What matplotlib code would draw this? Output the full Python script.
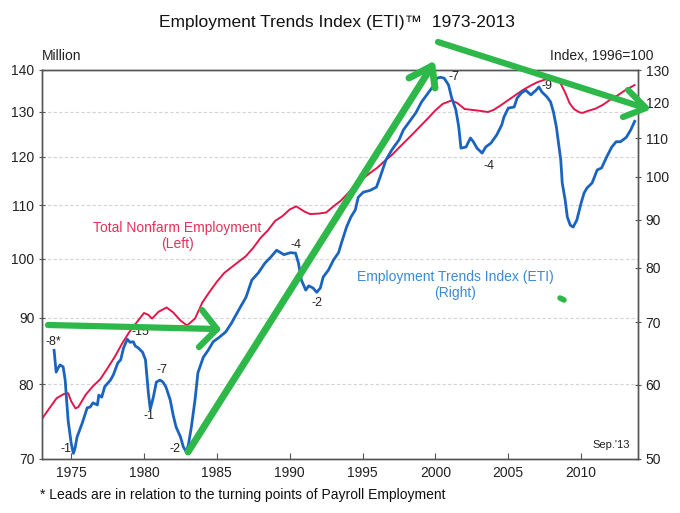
import matplotlib
matplotlib.use("Agg")
import matplotlib.pyplot as plt
from matplotlib.lines import Line2D
from matplotlib.ticker import FixedLocator, NullLocator, FuncFormatter

plt.rcParams['font.family'] = ['Liberation Sans', 'DejaVu Sans']

# Total nonfarm employment, millions (left axis)
emp_year = [1973.0, 1973.5, 1974.0, 1974.5, 1974.8, 1975.0, 1975.3, 1975.5, 1976.0, 1976.5,
            1977.0, 1977.5, 1978.0, 1978.5, 1979.0, 1979.5, 1980.0, 1980.3, 1980.55, 1981.0,
            1981.55, 1982.0, 1982.5, 1982.95, 1983.5, 1984.0, 1984.5, 1985.0, 1985.5, 1986.0,
            1986.5, 1987.0, 1987.5, 1988.0, 1988.5, 1989.0, 1989.5, 1990.0, 1990.45, 1991.0,
            1991.4, 1992.0, 1992.5, 1993.0, 1993.5, 1994.0, 1994.5, 1995.0, 1995.5, 1996.0,
            1996.5, 1997.0, 1997.5, 1998.0, 1998.5, 1999.0, 1999.5, 2000.0, 2000.5, 2001.1,
            2001.5, 2002.0, 2002.5, 2003.0, 2003.6, 2004.0, 2004.5, 2005.0, 2005.5, 2006.0,
            2006.5, 2007.0, 2007.5, 2008.0, 2008.3, 2008.6, 2008.9, 2009.2, 2009.5, 2009.9,
            2010.1, 2010.5, 2011.0, 2011.5, 2012.0, 2012.5, 2013.0, 2013.67]
emp_val = [75.2, 76.6, 78.0, 78.6, 78.7, 77.6, 76.6, 76.8, 78.5, 79.7,
           80.7, 82.3, 84.0, 86.0, 87.8, 89.3, 90.8, 90.5, 89.9, 91.0,
           91.7, 90.9, 89.6, 88.8, 89.9, 92.5, 94.3, 96.0, 97.5, 98.5,
           99.5, 100.5, 102.0, 103.8, 105.2, 107.0, 107.9, 109.2, 109.8, 108.8,
           108.3, 108.4, 108.6, 109.8, 110.9, 112.4, 114.1, 115.3, 116.5, 117.6,
           119.0, 120.3, 121.9, 123.5, 125.1, 126.8, 128.5, 130.3, 131.8, 132.6,
           132.0, 130.6, 130.4, 130.2, 129.9, 130.4, 131.5, 132.7, 133.9, 135.1,
           136.1, 137.0, 137.6, 138.2, 137.8, 136.6, 134.5, 132.0, 130.6, 129.8,
           129.7, 130.2, 130.7, 131.6, 132.8, 133.8, 135.0, 136.3]

# Employment Trends Index, 1996=100 (right axis)
eti_year = [1973.83, 1973.97, 1974.10, 1974.24, 1974.45, 1974.59, 1974.79, 1975.00, 1975.15, 1975.25,
            1975.41, 1975.76, 1976.10, 1976.30, 1976.50, 1976.80, 1976.90, 1977.10, 1977.30, 1977.70,
            1977.90, 1978.20, 1978.40, 1978.60, 1978.85, 1979.05, 1979.26, 1979.40, 1979.60, 1979.90,
            1980.10, 1980.30, 1980.43, 1980.64, 1980.85, 1981.10, 1981.30, 1981.50, 1981.80, 1982.00,
            1982.20, 1982.50, 1982.70, 1982.90, 1983.05, 1983.25, 1983.50, 1983.70, 1984.07, 1984.40,
            1984.75, 1985.10, 1985.60, 1986.00, 1986.50, 1987.00, 1987.40, 1987.85, 1988.30, 1988.70,
            1989.10, 1989.60, 1990.05, 1990.40, 1990.60, 1990.80, 1991.10, 1991.30, 1991.60, 1991.85,
            1992.10, 1992.30, 1992.65, 1993.00, 1993.35, 1993.55, 1993.90, 1994.20, 1994.50, 1994.70,
            1995.05, 1995.50, 1995.95, 1996.20, 1996.60, 1997.00, 1997.50, 1997.80, 1998.30, 1998.65,
            1999.05, 1999.55, 1999.90, 2000.10, 2000.35, 2000.60, 2000.90, 2001.10, 2001.40, 2001.60,
            2001.75, 2002.10, 2002.40, 2002.60, 2002.85, 2003.20, 2003.45, 2003.80, 2004.20, 2004.55,
            2004.70, 2005.00, 2005.40, 2005.60, 2005.90, 2006.20, 2006.55, 2006.90, 2007.10, 2007.30,
            2007.65, 2007.90, 2008.10, 2008.30, 2008.45, 2008.60, 2008.70, 2008.90, 2009.05, 2009.25,
            2009.45, 2009.70, 2010.00, 2010.20, 2010.40, 2010.75, 2011.10, 2011.40, 2011.75, 2012.10,
            2012.40, 2012.70, 2013.10, 2013.40, 2013.67]
eti_val = [65.3, 61.9, 62.5, 63.0, 62.7, 60.7, 55.0, 52.0, 50.7, 51.2,
           52.8, 54.6, 56.7, 56.8, 57.4, 57.1, 58.5, 58.2, 59.7, 60.7,
           61.5, 63.3, 63.8, 65.7, 67.1, 66.6, 66.7, 66.0, 65.7, 65.0,
           63.8, 58.8, 56.5, 58.2, 60.4, 60.7, 60.4, 59.7, 57.8, 55.7,
           54.1, 52.8, 51.5, 50.9, 51.8, 54.1, 57.8, 61.8, 64.2, 65.3,
           66.7, 67.3, 68.3, 69.8, 72.1, 74.4, 77.6, 79.0, 80.9, 82.1,
           83.5, 82.6, 83.0, 82.9, 80.9, 77.6, 75.7, 76.5, 76.1, 75.3,
           76.1, 78.2, 79.5, 81.5, 83.0, 85.0, 88.4, 90.6, 92.2, 95.1,
           96.3, 96.7, 97.5, 99.9, 104.2, 106.8, 109.5, 112.2, 115.0, 117.0,
           120.2, 123.2, 125.3, 127.4, 127.7, 127.4, 125.3, 121.6, 117.9, 113.0,
           107.3, 107.6, 110.0, 109.0, 107.3, 106.0, 107.6, 108.6, 110.8, 113.6,
           115.8, 118.4, 118.7, 121.3, 122.9, 123.7, 122.3, 123.7, 124.7, 123.2,
           121.7, 120.2, 117.2, 113.0, 108.6, 104.2, 98.5, 94.5, 90.6, 88.8,
           88.4, 89.9, 93.8, 96.1, 97.3, 98.5, 101.7, 102.2, 105.0, 107.6,
           109.0, 109.0, 110.2, 112.2, 114.6]

# lead labels at ETI turning points (right-axis units)
lead_text = ["-8*", "-1", "-15", "-1", "-7", "-2", "-4", "-2", "-7", "-4", "-9"]
lead_year = [1973.76, 1974.66, 1979.74, 1980.36, 1981.25, 1982.15, 1990.46, 1991.84, 2001.25, 2003.66, 2007.65]
lead_val = [66.7, 51.2, 68.3, 55.6, 62.2, 51.2, 84.5, 73.3, 127.8, 102.7, 125.0]

left_ticks = [70, 80, 90, 100, 110, 120, 130, 140]
right_ticks = [50, 60, 70, 80, 90, 100, 110, 120, 130]
year_ticks = [1975, 1980, 1985, 1990, 1995, 2000, 2005, 2010]

RED = "#e0174b"
BLUE = "#1a64c0"
GREEN = "#2eb84a"
AXC = "#555555"

fig = plt.figure(figsize=(6.8, 5.13), dpi=100)
ax = fig.add_axes([42 / 680, 1 - 459 / 513, 596 / 680, 389 / 513])
ax2 = ax.twinx()

ax.plot(emp_year, emp_val, color=RED, lw=1.4)
ax2.plot(eti_year, eti_val, color=BLUE, lw=2.0)

fmt = FuncFormatter(lambda v, p: "%d" % round(v))
for a, lo, hi, ticks in [(ax, 70, 140, left_ticks), (ax2, 50, 130, right_ticks)]:
    a.set_yscale('log')
    a.set_ylim(lo, hi)
    a.yaxis.set_major_locator(FixedLocator(ticks))
    a.yaxis.set_minor_locator(NullLocator())
    a.yaxis.set_major_formatter(fmt)
    a.tick_params(axis='y', direction='inout', length=5, width=0.8, color=AXC,
                  labelsize=10, labelcolor="#222222", pad=3)
    for s in a.spines.values():
        s.set_color(AXC)
        s.set_linewidth(1.0)

ax.set_xlim(1973.0, 2013.9)
ax.set_xticks(year_ticks)
ax.tick_params(axis='x', direction='in', length=4, width=0.8, color=AXC,
               labelsize=10, labelcolor="#222222", pad=5)

ax.grid(axis='y', color="#d4d4d4", lw=0.8, ls=(0, (3, 2)))
ax.grid(axis='x', visible=False)
ax.set_axisbelow(True)

for t, yr, v in zip(lead_text, lead_year, lead_val):
    ax2.text(yr, v, t, ha='center', va='center', fontsize=9, color="#222222")

# series labels
fig.text(177 / 680, 1 - 236 / 513, "Total Nonfarm Employment\n(Left)", ha='center', va='center',
         fontsize=10, color="#e8305a", linespacing=1.25)
fig.text(455 / 680, 1 - 285 / 513, "Employment Trends Index (ETI)\n(Right)", ha='center', va='center',
         fontsize=10, color="#3a8ad8", linespacing=1.25)

fig.text(337 / 680, 1 - 22 / 513, "Employment Trends Index (ETI)\u2122  1973-2013",
         ha='center', va='center', fontsize=12.5, color="#111111")
fig.text(42 / 680, 1 - 56 / 513, "Million", ha='left', va='center', fontsize=10, color="#222222")
fig.text(653 / 680, 1 - 56 / 513, "Index, 1996=100", ha='right', va='center', fontsize=10, color="#222222")
fig.text(630 / 680, 1 - 445 / 513, "Sep.'13", ha='right', va='center', fontsize=8, color="#222222")
fig.text(40 / 680, 1 - 495 / 513, "* Leads are in relation to the turning points of Payroll Employment",
         ha='left', va='center', fontsize=10, color="#111111")


def green_stroke(points, lw=4.5):
    xs = [p[0] / 680 for p in points]
    ys = [1 - p[1] / 513 for p in points]
    fig.add_artist(Line2D(xs, ys, transform=fig.transFigure, color=GREEN, lw=lw,
                          solid_capstyle='round', solid_joinstyle='round'))


# hand-drawn green arrows
green_stroke([(48, 325), (217, 329)])
green_stroke([(202, 310), (217, 329), (199, 347)])
green_stroke([(188, 452), (432, 66)], lw=5)
green_stroke([(409, 78), (432, 66), (435, 88)], lw=5)
green_stroke([(438, 42), (645, 108)])
green_stroke([(628, 90), (646, 108), (623, 117)])
green_stroke([(560, 298), (564, 300)], lw=4)

fig.savefig("out.png", dpi=100)
